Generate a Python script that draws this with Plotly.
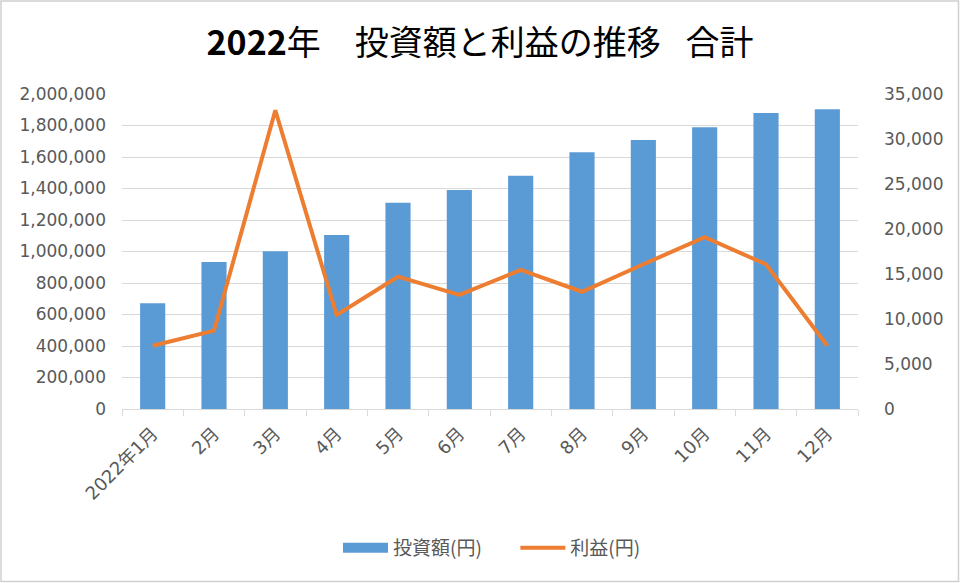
import plotly.graph_objects as go

months = ["2022年1月", "2月", "3月", "4月", "5月", "6月", "7月", "8月", "9月", "10月", "11月", "12月"]
investment = [671000, 933000, 1001000, 1105000, 1310000, 1390000, 1481000, 1630000, 1708000, 1789000, 1879000, 1903000]
profit = [7030, 8700, 33200, 10450, 14700, 12670, 15450, 13030, 16080, 19080, 16080, 7030]

left_ticks = list(range(0, 2000001, 200000))
right_ticks = list(range(0, 35001, 5000))

FONT = "DejaVu Sans, Noto Sans CJK JP"
CJK = "Noto Sans CJK JP"
GRAY = "#595959"
BLUE = "#5B9BD5"
ORANGE = "#ED7D31"

fig = go.Figure()
fig.add_trace(go.Bar(x=months, y=investment, name="投資額(円)", marker_color=BLUE,
                     marker_line_width=0, yaxis="y", showlegend=False))
# legend entry with a wide blue swatch, like the reference
fig.add_trace(go.Scatter(x=[None], y=[None], name="投資額(円)\u2003\u2002", mode="lines",
                         line=dict(color=BLUE, width=10), yaxis="y"))
fig.add_trace(go.Scatter(x=months, y=profit, name="利益(円)", mode="lines",
                         line=dict(color=ORANGE, width=4), yaxis="y2"))

W, H = 960, 583
L, R, T, B = 122, 102, 94, 174
pw, ph = W - L - R, H - T - B

fig.update_layout(
    width=W, height=H,
    margin=dict(l=L, r=R, t=T, b=B),
    paper_bgcolor="white", plot_bgcolor="white",
    font=dict(family=FONT, size=16, color=GRAY),
    title=dict(text="<b>2022</b>年\u3000投資額と利益の推移 \u2002合計", x=0.5, xref="container",
               y=1 - 43 / H, yref="container", xanchor="center", yanchor="middle",
               font=dict(family=CJK, size=34, color="black")),
    bargap=0.59,
    xaxis=dict(tickangle=-45, showgrid=False, showline=True, linecolor="#d9d9d9",
               ticks="outside", tickcolor="#d9d9d9", ticklen=6, tickson="boundaries",
               tickfont=dict(family=FONT, size=18, color=GRAY), ticklabelstandoff=6),
    yaxis=dict(range=[0, 2000000], tickvals=left_ticks, tickformat=",", showgrid=True,
               gridcolor="#d9d9d9", gridwidth=1, zeroline=False, showline=False,
               tickfont=dict(family=FONT, size=17, color=GRAY), ticks="", ticklabelstandoff=15),
    yaxis2=dict(range=[0, 35000], tickvals=right_ticks, tickformat=",", overlaying="y",
                side="right", showgrid=False, zeroline=False, showline=False,
                tickfont=dict(family=FONT, size=17, color=GRAY), ticklabelstandoff=25),
    legend=dict(orientation="h", x=(492 - L) / pw, xanchor="center", y=-(548 - 409) / ph,
                yanchor="middle", itemwidth=45, font=dict(family=CJK, size=19, color=GRAY)),
    showlegend=True,
)

# light outer border of the chart area
fig.add_shape(type="rect", xref="paper", yref="paper",
              x0=-(L - 1) / pw, x1=1 + (R - 1.5) / pw, y0=-(B - 1.5) / ph, y1=1 + (T - 1) / ph,
              line=dict(color="#d0d0d0", width=1.5), fillcolor="rgba(0,0,0,0)", layer="below")

fig.write_html("out.html", config={"displayModeBar": False},
               post_script="document.body.style.margin='0';")
